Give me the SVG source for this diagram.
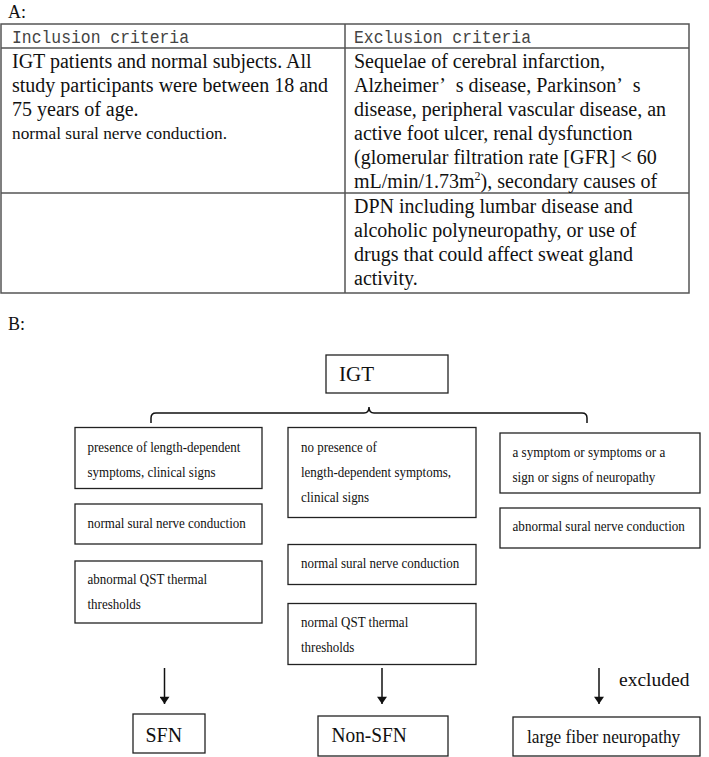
<svg xmlns="http://www.w3.org/2000/svg" width="709" height="757" viewBox="0 0 709 757">
<style>
.t{font-family:"Liberation Serif","Times New Roman",serif;fill:#111}
.m{font-family:"Liberation Mono","Courier New",monospace;fill:#444;font-size:18.5px}
.b{font-size:20px}
.f{font-size:14.6px}
.box{fill:#fff;stroke:#222;stroke-width:1.3}
.tl{stroke:#555;stroke-width:1.5;fill:none}
.cn{stroke:#111;stroke-width:1.5;fill:none}
</style>
<defs>
<marker id="ah" viewBox="0 0 10 14" refX="10" refY="7" markerWidth="14" markerHeight="10" markerUnits="userSpaceOnUse" orient="auto">
<path d="M0,0 L10,7 L0,14 z" fill="#111"/>
</marker>
</defs>
<rect width="709" height="757" fill="#fff"/>
<text class="t" x="8" y="18" font-size="18">A:</text>
<g id="table">
<rect class="tl" x="1" y="24" width="688" height="269"/>
<line class="tl" x1="1" y1="48" x2="689" y2="48"/>
<line class="tl" x1="1" y1="193" x2="689" y2="193"/>
<line class="tl" x1="345" y1="24" x2="345" y2="293"/>
<text class="m" x="12" y="43" textLength="177" lengthAdjust="spacingAndGlyphs">Inclusion criteria</text>
<text class="m" x="354" y="43" textLength="177" lengthAdjust="spacingAndGlyphs">Exclusion criteria</text>
<text class="t b" x="12" y="68">IGT patients and normal subjects. All</text>
<text class="t b" x="12" y="92">study participants were between 18 and</text>
<text class="t b" x="12" y="116">75 years of age.</text>
<text class="t" x="12" y="139" font-size="16" textLength="215" lengthAdjust="spacingAndGlyphs">normal sural nerve conduction.</text>
<text class="t b" x="354" y="68">Sequelae of cerebral infarction,</text>
<text class="t b" x="354" y="92">Alzheimer’<tspan dx="11">s disease, Parkinson’</tspan><tspan dx="11">s</tspan></text>
<text class="t b" x="354" y="116">disease, peripheral vascular disease, an</text>
<text class="t b" x="354" y="140">active foot ulcer, renal dysfunction</text>
<text class="t b" x="354" y="164">(glomerular filtration rate [GFR] &lt; 60</text>
<text class="t b" x="354" y="188">mL/min/1.73m<tspan font-size="12" dy="-8">2</tspan><tspan dy="8">), secondary causes of</tspan></text>
<text class="t b" x="354" y="213">DPN including lumbar disease and</text>
<text class="t b" x="354" y="237">alcoholic polyneuropathy, or use of</text>
<text class="t b" x="354" y="261">drugs that could affect sweat gland</text>
<text class="t b" x="354" y="285">activity.</text>
</g>
<text class="t" x="8" y="330" font-size="18">B:</text>
<g id="igt"><rect class="box" x="326" y="355" width="122" height="38"/><text class="t" x="339" y="381" font-size="21">IGT</text></g>
<g id="l1"><rect class="box" x="75" y="427.5" width="187" height="61"/><text class="t f" transform="translate(87.5,451.5) scale(0.89,1)">presence of length-dependent</text><text class="t f" transform="translate(87.5,476.5) scale(0.89,1)">symptoms, clinical signs</text></g>
<g id="l2"><rect class="box" x="75" y="504" width="187" height="40"/><text class="t f" transform="translate(87.5,528) scale(0.89,1)">normal sural nerve conduction</text></g>
<g id="l3"><rect class="box" x="75" y="561" width="187" height="62"/><text class="t f" transform="translate(87.5,584) scale(0.89,1)">abnormal QST thermal</text><text class="t f" transform="translate(87.5,609) scale(0.89,1)">thresholds</text></g>
<g id="m1"><rect class="box" x="288" y="427.5" width="188" height="90"/><text class="t f" transform="translate(301,451.5) scale(0.89,1)">no presence of</text><text class="t f" transform="translate(301,476.5) scale(0.89,1)">length-dependent symptoms,</text><text class="t f" transform="translate(301,502) scale(0.89,1)">clinical signs</text></g>
<g id="m2"><rect class="box" x="288" y="544.5" width="188" height="40"/><text class="t f" transform="translate(301,567.5) scale(0.89,1)">normal sural nerve conduction</text></g>
<g id="m3"><rect class="box" x="288" y="603.5" width="188" height="61"/><text class="t f" transform="translate(301,627) scale(0.89,1)">normal QST thermal</text><text class="t f" transform="translate(301,652) scale(0.89,1)">thresholds</text></g>
<g id="r1"><rect class="box" x="500" y="433" width="200" height="60"/><text class="t f" transform="translate(512.5,456.5) scale(0.9,1)">a symptom or symptoms or a</text><text class="t f" transform="translate(512.5,481.5) scale(0.9,1)">sign or signs of neuropathy</text></g>
<g id="r2"><rect class="box" x="500" y="508" width="200" height="40"/><text class="t f" transform="translate(512.5,531) scale(0.9,1)">abnormal sural nerve conduction</text></g>
<g id="sfn"><rect class="box" x="133" y="714" width="72" height="39"/><text class="t" font-size="21" transform="translate(145.5,742) scale(0.95,1)">SFN</text></g>
<g id="nonsfn"><rect class="box" x="318" y="716" width="130" height="40"/><text class="t" font-size="22" transform="translate(331.5,742) scale(0.88,1)">Non-SFN</text></g>
<g id="lfn"><rect class="box" x="513" y="717" width="187" height="39"/><text class="t" font-size="19" transform="translate(527,743) scale(0.91,1)">large fiber neuropathy</text></g>
<g id="connectors">
<path class="cn" d="M151,423 L151,418 Q151,413 156,413 L364,413 Q369,413 369,407 Q369,413 374,413 L582,413 Q587,413 587,418 L587,423"/>
<line class="cn" x1="164.5" y1="668" x2="164.5" y2="704" marker-end="url(#ah)"/>
<line class="cn" x1="382" y1="668" x2="382" y2="704" marker-end="url(#ah)"/>
<line class="cn" x1="599" y1="668" x2="599" y2="704" marker-end="url(#ah)"/>
<text class="t" x="619" y="686" font-size="19.5">excluded</text>
</g>
</svg>
